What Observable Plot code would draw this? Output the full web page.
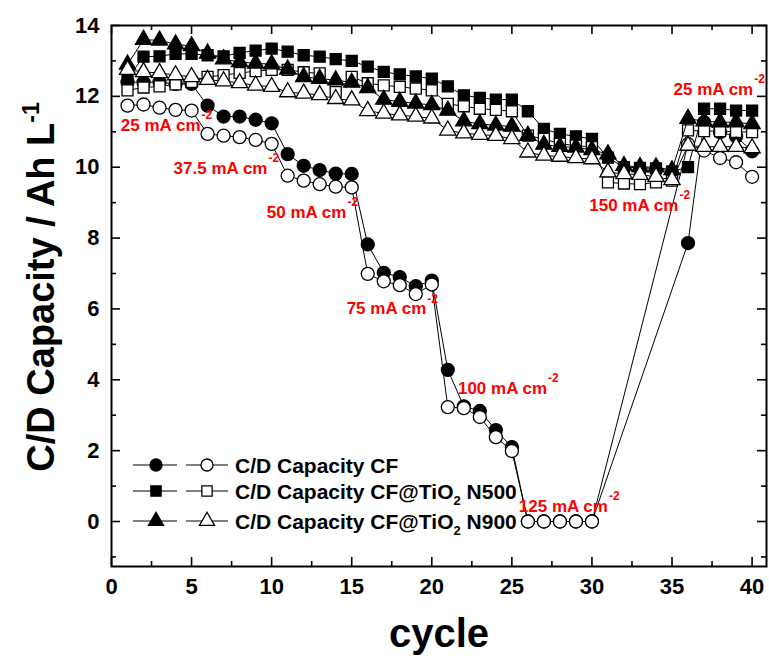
<!DOCTYPE html>
<html><head><meta charset="utf-8">
<script src="https://cdn.jsdelivr.net/npm/d3@7"></script>
<script src="https://cdn.jsdelivr.net/npm/@observablehq/plot@0.6"></script>
<style>body{margin:0;background:#fff}</style>
</head><body><div id="chart"></div>
<script>
// ---- data ----
const cycles = [1,2,3,4,5,6,7,8,9,10,11,12,13,14,15,16,17,18,19,20,21,22,23,24,25,26,27,28,29,30,31,32,33,34,35,36,37,38,39,40];
const cfCharge = [12.4,12.4,12.4,12.35,12.35,11.74,11.43,11.43,11.34,11.24,10.37,10.04,9.92,9.82,9.81,7.82,7.02,6.9,6.64,6.8,4.28,3.25,3.12,2.58,2.1,0,0,0,0,0,null,null,null,null,null,7.86,11.27,10.99,10.87,10.45];
const cfDischarge = [11.74,11.77,11.68,11.62,11.6,10.94,10.89,10.85,10.77,10.66,9.76,9.62,9.52,9.45,9.43,6.99,6.78,6.67,6.42,6.69,3.23,3.2,2.95,2.38,1.99,0,0,0,0,0,null,null,null,null,null,10.65,10.47,10.26,10.14,9.73];
const n500Charge = [12.5,13.12,13.13,13.2,13.2,13.16,13.13,13.23,13.29,13.35,13.26,13.16,13.12,13.05,13.0,12.84,12.69,12.62,12.56,12.5,12.28,12.03,11.96,11.91,11.91,11.58,11.08,10.94,10.87,10.8,10.27,10.0,9.98,9.97,9.88,10.0,11.65,11.65,11.6,11.6];
const n500Discharge = [12.17,12.25,12.28,12.34,12.41,12.55,12.6,12.66,12.71,12.75,12.75,12.68,12.65,12.12,12.55,12.37,12.31,12.27,12.22,12.17,11.79,11.72,11.65,11.62,11.58,10.89,10.8,10.66,10.61,10.57,9.57,9.54,9.52,9.57,9.62,11.04,11.02,11.02,11.0,10.99];
const n900Charge = [12.9,13.6,13.58,13.47,13.42,13.21,13.05,12.97,12.93,12.91,12.76,12.55,12.5,12.46,12.39,12.24,11.91,11.85,11.8,11.76,11.6,11.3,11.22,11.18,11.15,10.89,10.64,10.58,10.56,10.49,10.37,10.04,10.01,10.0,9.92,11.37,11.3,11.27,11.27,11.22];
const n900Discharge = [12.75,12.69,12.66,12.6,12.55,12.47,12.43,12.38,12.31,12.27,12.12,12.08,12.04,11.93,11.89,11.59,11.52,11.47,11.43,11.38,11.04,10.96,10.92,10.89,10.8,10.42,10.33,10.3,10.26,10.23,9.86,9.81,9.79,9.73,9.64,10.61,10.58,10.58,10.58,10.54];

const xMajor = [0,5,10,15,20,25,30,35,40];
const xMinor = [2.5,7.5,12.5,17.5,22.5,27.5,32.5,37.5];
const yMajor = [0,2,4,6,8,10,12,14];
const yMinor = [-1,1,3,5,7,9,11,13];

const annLabels = ["25 mA cm","37.5 mA cm","50 mA cm","75 mA cm","100 mA cm","125 mA cm","150 mA cm","25 mA cm"];
const annCycle = [5.56,9.74,14.67,19.66,27.2,31.0,35.4,40.07];
const annValue = [11.18,9.96,8.72,6.0,3.75,0.42,8.92,12.19];

const legendLabels = [["C/D Capacity CF"],["C/D Capacity CF@TiO","2"," N500"],["C/D Capacity CF@TiO","2"," N900"]];

// ---- build tables ----
const rows = (vals) => cycles.map((c,i)=>({cycle:c, value:vals[i]})).filter(d=>d.value!=null);
const series = [
  {vals: cfCharge, symbol:"circle", fill:"black", r:6.5},
  {vals: cfDischarge, symbol:"circle", fill:"white", r:6.5},
  {vals: n500Charge, symbol:"square", fill:"black", r:6.2},
  {vals: n500Discharge, symbol:"square", fill:"white", r:6.2},
  {vals: n900Charge, symbol:"triangle", fill:"black", r:6},
  {vals: n900Discharge, symbol:"triangle", fill:"white", r:6}
];
const anns = annLabels.map((t,i)=>({label:t, x:annCycle[i], y:annValue[i]}));

const marks = [];
for (const s of series) {
  const d = rows(s.vals);
  marks.push(Plot.line(d, {x:"cycle", y:"value", stroke:"black", strokeWidth:1}));
  marks.push(Plot.dot(d, {x:"cycle", y:"value", symbol:s.symbol, r:s.r, fill:s.fill, stroke:"black", strokeWidth:1.3}));
}

const W = 769, H = 658, ML = 111, MR = 3, MT = 25, MB = 92;
const FW = W - ML - MR, FH = H - MT - MB;
const tk = {stroke:"black", strokeWidth:1.6};
const chart = Plot.plot({
  width: W, height: H,
  marginLeft: ML, marginRight: MR, marginTop: MT, marginBottom: MB,
  x: {domain: [0, 40.9]},
  y: {domain: [-1.27, 14]},
  style: {fontFamily: "'Liberation Sans', Arial, sans-serif", background: "white"},
  marks: [
    ...marks,
    Plot.text(anns, {x:"x", y:"y", text:"label", textAnchor:"end", fill:"#ff0000", fontSize:17, fontWeight:"bold"}),
    Plot.text(anns, {x:"x", y:"y", text:()=>"-2", textAnchor:"start", dx:1, dy:-10, fill:"#ff0000", fontSize:12, fontWeight:"bold"}),
    // inward ticks
    Plot.ruleX(xMajor, {x:d=>d, insetTop: FH - 9, ...tk}),
    Plot.ruleX(xMinor, {x:d=>d, insetTop: FH - 5, ...tk}),
    Plot.ruleX(xMajor, {x:d=>d, insetBottom: FH - 9, ...tk}),
    Plot.ruleX(xMinor, {x:d=>d, insetBottom: FH - 5, ...tk}),
    Plot.ruleY(yMajor, {y:d=>d, insetRight: FW - 9, ...tk}),
    Plot.ruleY(yMinor, {y:d=>d, insetRight: FW - 5, ...tk}),
    Plot.ruleY(yMajor, {y:d=>d, insetLeft: FW - 9, ...tk}),
    Plot.ruleY(yMinor, {y:d=>d, insetLeft: FW - 5, ...tk}),
    Plot.axisX({ticks:xMajor, anchor:"bottom", tickSize:0, tickPadding:12, label:null, fontSize:22, fontWeight:"bold", fill:"black"}),
    Plot.axisY({ticks:yMajor, anchor:"left", tickSize:0, tickPadding:12, label:null, fontSize:22, fontWeight:"bold", fill:"black"}),
    Plot.frame({stroke:"black", strokeWidth:2})
  ]
});

// ---- titles & legend ----
const svg = d3.select(chart);
const ff = "'Liberation Sans', Arial, sans-serif";
const yt = svg.append("text").attr("transform","translate(54,287) rotate(-90)")
  .attr("text-anchor","middle").attr("font-family",ff).attr("font-weight","bold").attr("font-size",38).attr("fill","black");
yt.append("tspan").text("C/D Capacity / Ah L");
yt.append("tspan").attr("font-size",23).attr("dy",-15).text("-1");
svg.append("text").attr("x",439).attr("y",647).attr("text-anchor","middle")
  .attr("font-family",ff).attr("font-weight","bold").attr("font-size",40).attr("fill","black").text("cycle");

const legRowY = [465, 491, 521];
const legSym = [d3.symbolCircle, d3.symbolSquare, d3.symbolTriangle];
const legR = [6, 5.8, 5.6];
const lg = svg.append("g").attr("text-anchor","start");
legendLabels.forEach((lab, i) => {
  const y = legRowY[i];
  [[133,177,156,"black"],[186,228,207,"white"]].forEach(([x1,x2,xm,fill]) => {
    lg.append("line").attr("x1",x1).attr("x2",x2).attr("y1",y).attr("y2",y).attr("stroke","black").attr("stroke-width",1);
    lg.append("path").attr("d", d3.symbol().type(legSym[i]).size(Math.PI*legR[i]*legR[i])())
      .attr("transform",`translate(${xm},${y})`).attr("fill",fill).attr("stroke","black").attr("stroke-width",1.3);
  });
  const t = lg.append("text").attr("x",235).attr("y",y+7.5).attr("text-anchor","start").attr("font-family",ff).attr("font-weight","bold").attr("font-size",21).attr("fill","black");
  t.append("tspan").text(lab[0]);
  if (lab.length > 1) {
    t.append("tspan").attr("font-size",13).attr("dy",6).text(lab[1]);
    t.append("tspan").attr("dy",-6).text(lab[2]);
  }
});

document.getElementById("chart").appendChild(chart);
</script></body></html>
